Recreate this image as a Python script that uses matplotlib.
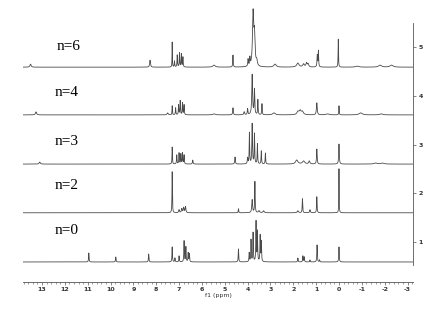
import numpy as np
import matplotlib
matplotlib.use("Agg")
import matplotlib.pyplot as plt
from matplotlib.ticker import MultipleLocator

# 谱图数据: 化学位移(ppm), 峰高(任意单位), 半峰宽(ppm)
labels = ["n=0", "n=2", "n=3", "n=4", "n=6"]
offsets = [0.59, 1.60, 2.60, 3.61, 4.59]

ppm_n0 = [10.95, 9.77, 8.33, 7.30, 7.18, 7.00, 6.78, 6.70, 6.60, 6.55,
          4.40, 3.93, 3.85, 3.76, 3.63, 3.57, 3.45, 3.40,
          1.80, 1.58, 1.52, 1.27, 0.96, 0.85, 0.00]
h_n0 = [9, 5, 8, 15, 4, 6, 21, 15, 9, 8,
        13, 9, 22, 29, 40, 30, 26, 20,
        4, 6, 5, 2, 17, 2, 15]
w_n0 = [0.012] * 25

ppm_n2 = [7.30, 7.00, 6.88, 6.80, 6.72, 4.40, 3.80, 3.68, 3.50, 3.30,
          1.80, 1.60, 1.27, 0.97, 0.00]
h_n2 = [41, 3, 4, 5, 6, 4, 13, 31, 2, 2,
        2, 14, 3, 16, 44]
w_n2 = [0.010, 0.02, 0.02, 0.02, 0.02, 0.012, 0.02, 0.012, 0.03, 0.03,
        0.03, 0.012, 0.02, 0.012, 0.008]

ppm_n3 = [13.10, 7.30, 7.10, 7.00, 6.92, 6.85, 6.78, 6.40, 4.55, 4.00,
          3.92, 3.80, 3.70, 3.57, 3.40, 3.22,
          1.85, 1.55, 1.30, 0.97, 0.00, -1.60, -1.90]
h_n3 = [2, 17, 9, 11, 10, 11, 9, 4, 7, 6,
        31, 40, 30, 20, 13, 11,
        4, 3, 3, 15, 20, 1, 1]
w_n3 = [0.03, 0.010, 0.012, 0.012, 0.012, 0.012, 0.012, 0.015, 0.015, 0.015,
        0.012, 0.015, 0.012, 0.012, 0.012, 0.012,
        0.06, 0.06, 0.03, 0.015, 0.015, 0.08, 0.08]

ppm_n4 = [13.26, 7.50, 7.30, 7.15, 7.02, 6.95, 6.85, 6.78, 5.47, 4.64,
          4.15, 4.00, 3.80, 3.70, 3.55, 3.37, 2.85,
          1.80, 1.70, 1.60, 0.97, 0.50, 0.00, -0.95, -1.85]
h_n4 = [3, 2, 9, 7, 10, 14, 12, 10, 1, 7,
        3, 6, 40, 25, 15, 11, 2,
        3, 4, 3, 12, 1, 9, 2, 1]
w_n4 = [0.03, 0.03, 0.010, 0.012, 0.012, 0.012, 0.012, 0.012, 0.06, 0.015,
        0.02, 0.015, 0.02, 0.015, 0.012, 0.012, 0.06,
        0.05, 0.05, 0.05, 0.02, 0.08, 0.010, 0.08, 0.08]

ppm_n6 = [13.50, 8.27, 7.30, 7.20, 7.08, 6.98, 6.90, 6.83, 5.47, 4.64,
          3.98, 3.90, 3.76, 3.70, 3.60, 2.80,
          1.80, 1.55, 1.42, 1.35, 0.95, 0.90, 0.03, -0.80, -1.80, -2.30]
h_n6 = [3, 7, 25, 6, 12, 14, 13, 10, 2, 12,
        7, 8, 52, 30, 5, 3,
        4, 3, 4, 3, 12, 16, 28, 1, 2, 2]
w_n6 = [0.03, 0.02, 0.008, 0.012, 0.012, 0.012, 0.012, 0.012, 0.06, 0.012,
        0.015, 0.015, 0.03, 0.03, 0.03, 0.06,
        0.06, 0.04, 0.03, 0.03, 0.015, 0.012, 0.01, 0.08, 0.08, 0.08]

spectra = [(ppm_n0, h_n0, w_n0), (ppm_n2, h_n2, w_n2), (ppm_n3, h_n3, w_n3),
           (ppm_n4, h_n4, w_n4), (ppm_n6, h_n6, w_n6)]

label_x = [12.43, 12.43, 12.43, 12.43, 12.34]
label_y = [1.23, 2.17, 3.07, 4.08, 5.02]

scale = 1 / 48.7  # 峰高 -> 纵轴单位


def lorentz(x, centers, heights, widths):
    y = np.zeros_like(x)
    for c, h, w in zip(centers, heights, widths):
        y += h * w ** 2 / ((x - c) ** 2 + w ** 2)
    return y


x = np.linspace(13.83, -3.24, 40000)

fig = plt.figure(figsize=(4.39, 3.09), dpi=100)
ax = fig.add_axes([23 / 439, 1 - 282 / 309, 390 / 439, 282 / 309])

for (c, h, w), off in zip(spectra, offsets):
    y = lorentz(x, c, h, w) * scale + off
    ax.plot(x, y, color="#4a4a4a", lw=0.6)

for lab, lx, ly in zip(labels, label_x, label_y):
    ax.text(lx, ly, lab, family="Liberation Serif", fontsize=11,
            ha="left", va="center", color="black")

ax.set_xlim(13.83, -3.24)
ax.set_ylim(1 + (242 - 282) / 48.7, 1 + 242 / 48.7)

ax.spines["left"].set_visible(False)
ax.spines["top"].set_visible(False)
ax.spines["right"].set_bounds(0.53, 5.49)
for s in ("right", "bottom"):
    ax.spines[s].set_color("#555555")
    ax.spines[s].set_linewidth(0.6)

ax.xaxis.set_minor_locator(MultipleLocator(0.2))
ax.set_xticks(np.arange(-3, 14, 1))
ax.set_xticklabels([str(v) for v in range(-3, 14)])
ax.yaxis.tick_right()
ax.set_yticks([1, 2, 3, 4, 5])
ax.tick_params(axis="both", which="major", length=2.5, width=0.5,
               labelsize=4.5, colors="#555555", pad=1.5)
ax.tick_params(axis="x", which="major", pad=0.8)
ax.tick_params(axis="x", which="minor", length=1.5, width=0.4, colors="#555555")
for t in ax.get_xticklabels() + ax.get_yticklabels():
    t.set_fontweight("bold")
    t.set_color("#333333")

fig.text(218 / 439, 1 - 296 / 309, "f1 (ppm)", fontsize=4.5, ha="center",
         va="center", color="#333333")

fig.savefig("out.png", dpi=100)
